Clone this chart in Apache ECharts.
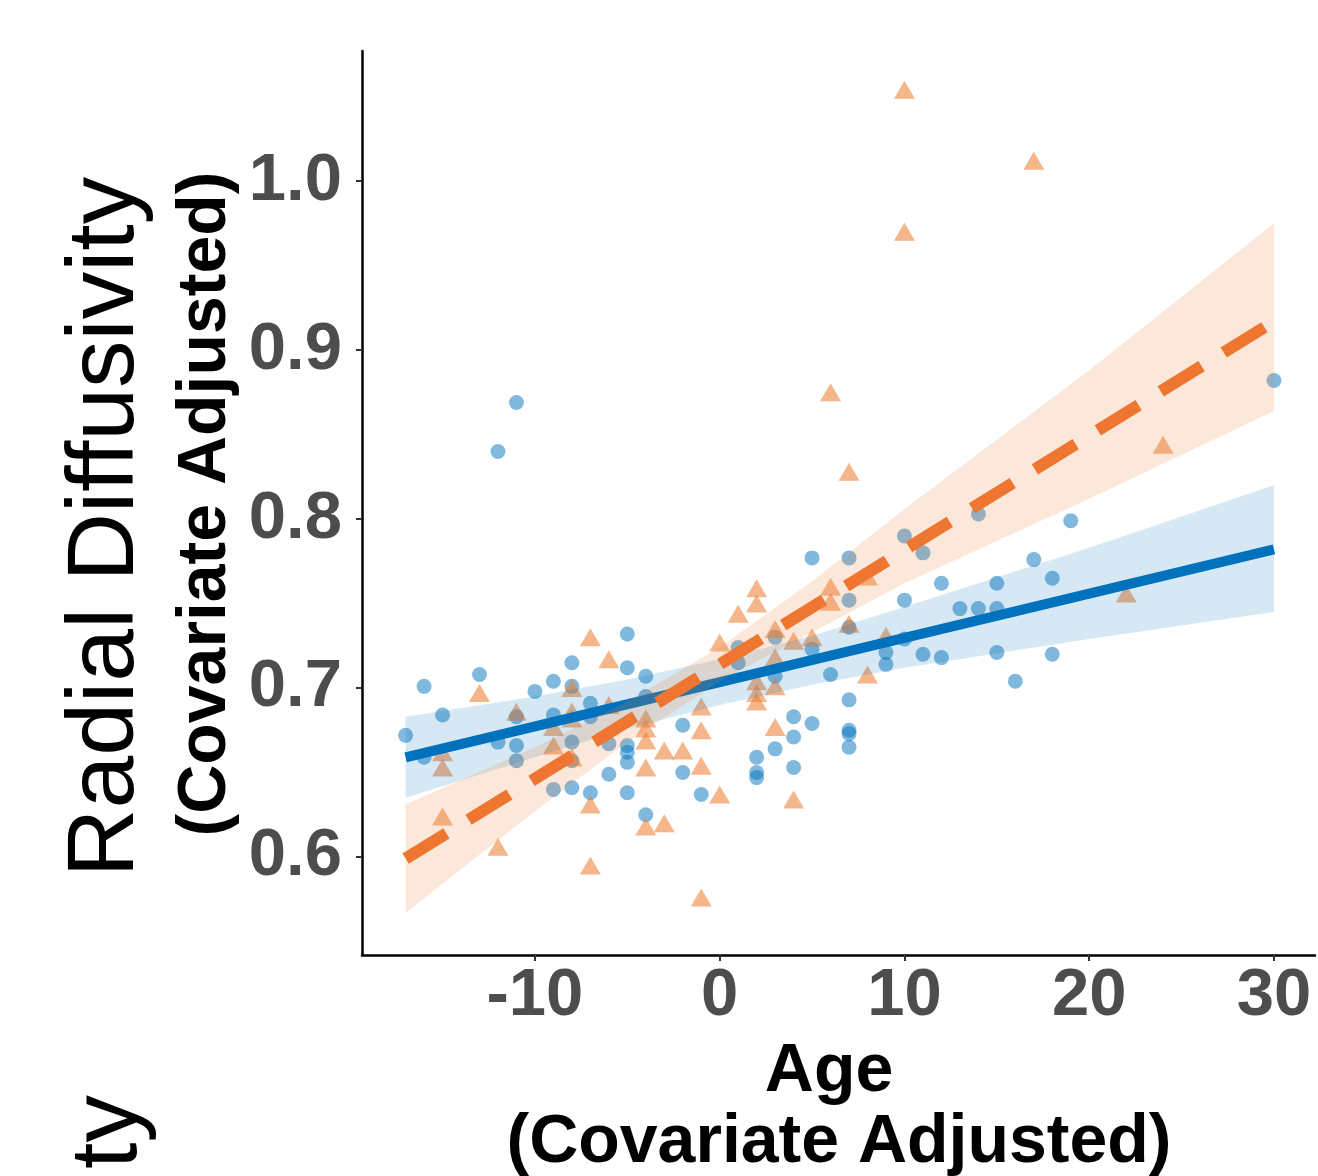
<!DOCTYPE html>
<html>
<head>
<meta charset="utf-8">
<title>Radial Diffusivity by Age</title>
<style>
  html, body { margin: 0; padding: 0; background: #fff; }
  #chart { width: 1318px; height: 1176px; }
</style>
</head>
<body>
<div id="chart"></div>
<script src="https://cdn.jsdelivr.net/npm/echarts@6/dist/echarts.min.js"></script>
<script>
// tick labels
var xTicks = [-10, 0, 10, 20, 30];
var yTicks = [0.6, 0.7, 0.8, 0.9, 1.0];

// group 1 (blue circles)
var blueAge = [-17,-16,-16,-15,-13,-12,-12,-11,-11,-11,-11,-10,-9,-9,-9,-8,-8,-8,-8,-8,-7,-7,-7,-6,-6,
  -5,-5,-5,-5,-5,-5,-4,-4,-4,-2,-2,-1,1,1,2,2,2,3,3,3,4,4,4,5,5,5,6,7,7,7,7,7,7,7,9,9,
  10,10,10,11,11,12,12,13,14,14,15,15,15,16,17,18,18,19,30];
var blueRD = [0.672,0.701,0.659,0.684,0.708,0.840,0.668,0.869,0.666,0.657,0.683,0.698,0.704,0.684,0.640,
  0.715,0.701,0.668,0.657,0.641,0.691,0.683,0.638,0.667,0.649,0.732,0.712,0.666,0.662,0.656,0.638,
  0.707,0.695,0.625,0.678,0.650,0.637,0.724,0.715,0.659,0.650,0.647,0.730,0.707,0.664,0.683,0.671,0.653,
  0.777,0.723,0.679,0.708,0.777,0.752,0.736,0.693,0.675,0.673,0.665,0.721,0.714,0.790,0.752,0.729,
  0.780,0.720,0.762,0.718,0.747,0.803,0.747,0.762,0.747,0.721,0.704,0.776,0.765,0.720,0.799,0.882];

// group 2 (orange triangles)
var orangeAge = [-15,-15,-15,-13,-12,-11,-9,-9,-8,-8,-8,-8,-7,-7,-7,-6,-6,-4,-4,-4,-4,-4,-3,-3,-2,
  -1,-1,-1,-1,0,0,1,2,2,2,2,2,3,3,3,3,4,4,5,6,6,6,7,7,8,8,9,10,10,17,22,24];
var orangeRD = [0.662,0.653,0.624,0.697,0.606,0.686,0.677,0.666,0.700,0.686,0.682,0.659,0.730,0.631,0.595,
  0.717,0.690,0.682,0.676,0.669,0.653,0.618,0.663,0.620,0.663,0.689,0.675,0.654,0.576,0.727,0.637,
  0.744,0.759,0.750,0.704,0.697,0.692,0.735,0.718,0.701,0.677,0.728,0.634,0.730,0.875,0.760,0.751,
  0.828,0.738,0.766,0.708,0.731,1.054,0.970,1.012,0.756,0.844];

// fitted lines
var fitAge = [-17, 30];
var blueFit = [0.659, 0.782];
var orangeFit = [0.599, 0.917];

// confidence bands
var bandAge = [-17, -10, -5, 0, 5, 10, 20, 30];
var blueLo = [0.635, 0.659, 0.676, 0.690, 0.702, 0.712, 0.729, 0.745];
var blueHi = [0.683, 0.695, 0.705, 0.717, 0.731, 0.748, 0.783, 0.820];
var orangeLo = [0.567, 0.627, 0.668, 0.704, 0.733, 0.762, 0.812, 0.864];
var orangeHi = [0.631, 0.665, 0.692, 0.724, 0.763, 0.806, 0.888, 0.975];

var FONT = '"Liberation Sans", Arial, sans-serif';

function pairs(xs, ys) {
  return xs.map(function (x, i) { return [x, ys[i]]; });
}

// band drawn as one polygon: upper edge left->right, lower edge back
function band(lo, hi, color, z) {
  return {
    type: 'custom',
    silent: true,
    z: z,
    clip: true,
    data: bandAge.map(function (a, i) { return [a, lo[i], hi[i]]; }),
    encode: { x: 0, y: [1, 2] },
    renderItem: function (params, api) {
      if (params.dataIndex !== 0) return null;
      var pts = [];
      for (var i = 0; i < bandAge.length; i++) pts.push(api.coord([bandAge[i], hi[i]]));
      for (var j = bandAge.length - 1; j >= 0; j--) pts.push(api.coord([bandAge[j], lo[j]]));
      return { type: 'polygon', shape: { points: pts }, style: { fill: color } };
    }
  };
}

var chart = echarts.init(document.getElementById('chart'));
chart.setOption({
  animation: false,
  backgroundColor: '#fff',
  grid: { left: 362, right: 3, top: 51, bottom: 221, outerBoundsMode: 'none' },
  xAxis: {
    type: 'value',
    min: -19.36,
    max: 32.22,
    splitLine: { show: false },
    axisLine: { onZero: false, lineStyle: { color: '#000', width: 2.5 } },
    axisTick: { customValues: xTicks, length: 6, lineStyle: { color: '#333', width: 2 } },
    axisLabel: {
      customValues: xTicks,
      margin: 8,
      fontSize: 67, fontWeight: 'bold', color: '#4d4d4d', fontFamily: FONT
    }
  },
  yAxis: {
    type: 'value',
    min: 0.542,
    max: 1.077,
    splitLine: { show: false },
    axisLine: { onZero: false, lineStyle: { color: '#000', width: 2.5 } },
    axisTick: { customValues: yTicks, length: 6, lineStyle: { color: '#333', width: 2 } },
    axisLabel: {
      customValues: yTicks,
      margin: 20,
      fontSize: 67, fontWeight: 'bold', color: '#4d4d4d', fontFamily: FONT,
      formatter: function (v) { return v.toFixed(1); }
    }
  },
  series: [
    {
      type: 'scatter', z: 2,
      symbol: 'circle', symbolSize: 15,
      itemStyle: { color: 'rgba(0,114,189,0.62)' },
      data: pairs(blueAge, blueRD)
    },
    {
      type: 'scatter', z: 2,
      symbol: 'triangle', symbolSize: [21, 18],
      itemStyle: { color: 'rgba(237,125,49,0.7)' },
      data: pairs(orangeAge, orangeRD)
    },
    band(blueLo, blueHi, 'rgba(0,114,189,0.16)', 3),
    {
      type: 'line', z: 4, showSymbol: false, silent: true,
      lineStyle: { color: '#0072BD', width: 10, cap: 'butt' },
      data: pairs(fitAge, blueFit)
    },
    band(orangeLo, orangeHi, 'rgba(237,125,49,0.18)', 5),
    {
      type: 'line', z: 6, showSymbol: false, silent: true,
      lineStyle: { color: '#EE7630', width: 12, type: [48, 26], cap: 'butt' },
      data: pairs(fitAge, orangeFit)
    }
  ],
  graphic: [
    {
      type: 'text', x: 107, y: 527, rotation: Math.PI / 2,
      style: { text: 'Radial Diffusivity', font: 'normal 95px ' + FONT, fill: '#000',
        textAlign: 'center', textVerticalAlign: 'middle' }
    },
    {
      type: 'text', x: 206, y: 504, rotation: Math.PI / 2,
      style: { text: '(Covariate Adjusted)', font: 'bold 68px ' + FONT, fill: '#000',
        textAlign: 'center', textVerticalAlign: 'middle' }
    },
    {
      type: 'text', x: 829, y: 1072,
      style: { text: 'Age', font: 'bold 68px ' + FONT, fill: '#000',
        textAlign: 'center', textVerticalAlign: 'middle' }
    },
    {
      type: 'text', x: 839, y: 1143,
      style: { text: '(Covariate Adjusted)', font: 'bold 68px ' + FONT, fill: '#000',
        textAlign: 'center', textVerticalAlign: 'middle' }
    },
    {
      // tail of a neighbouring panel's axis title, cut off at the edge
      type: 'text', x: 110, y: 1095, rotation: Math.PI / 2,
      style: { text: 'ty', font: 'normal 95px ' + FONT, fill: '#000',
        textAlign: 'right', textVerticalAlign: 'middle' }
    }
  ]
});
</script>
</body>
</html>
